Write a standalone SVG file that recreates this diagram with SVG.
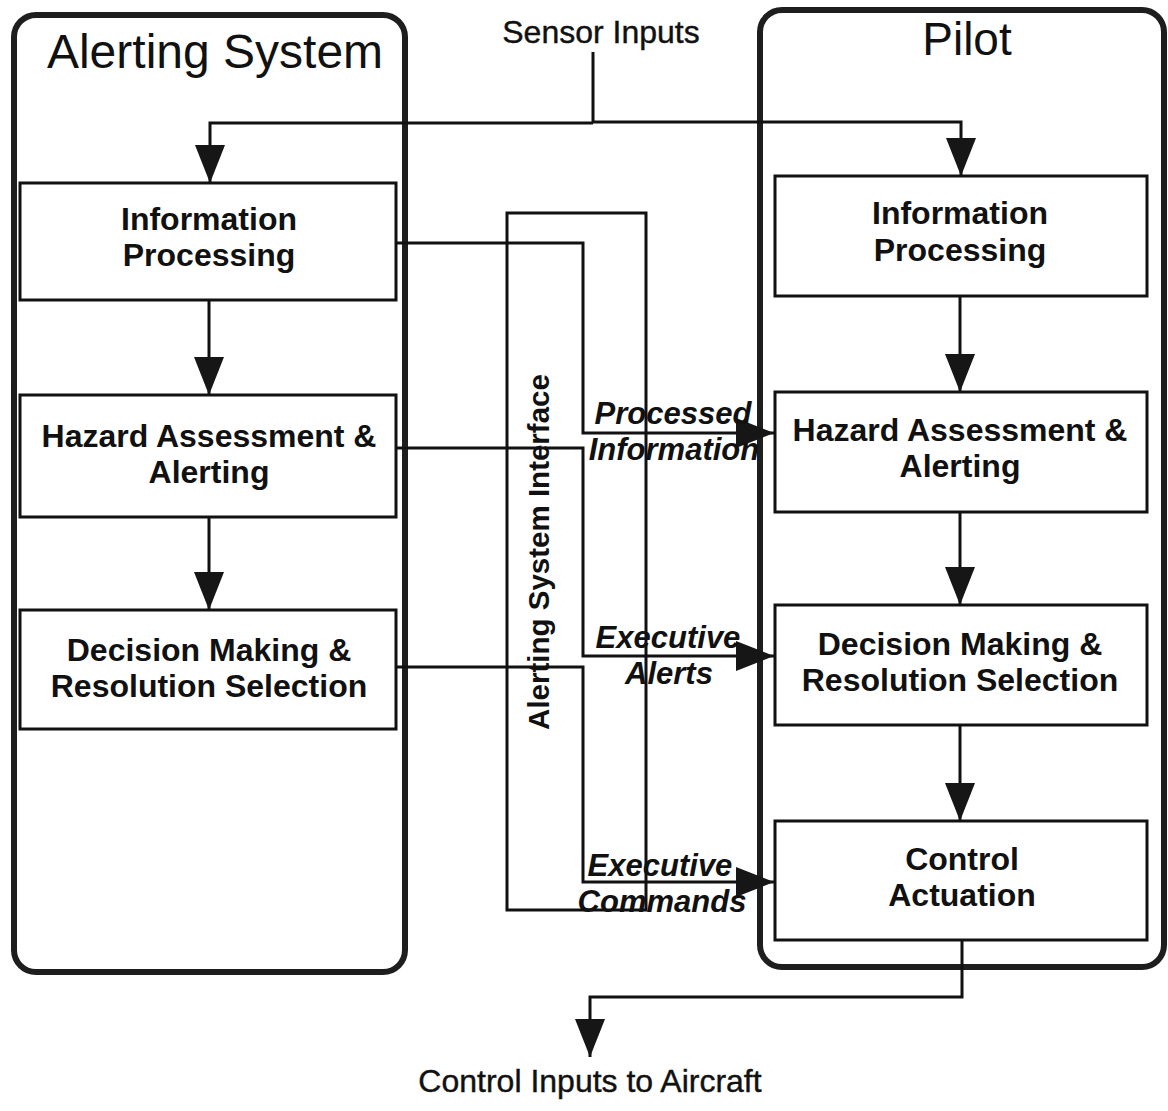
<svg xmlns="http://www.w3.org/2000/svg" width="1168" height="1111" viewBox="0 0 1168 1111">
<defs>
<marker id="arr" viewBox="0 0 38 30" refX="38" refY="15" markerWidth="38" markerHeight="30" markerUnits="userSpaceOnUse" orient="auto">
<path d="M0,0 L38,15 L0,30 Z" fill="#161616"/>
</marker>
<style>
.cont{fill:none;stroke:#1e1e1e;stroke-width:6}
.box{fill:#fff;stroke:#111;stroke-width:3}
.ln{fill:none;stroke:#111;stroke-width:3}
.arrow{marker-end:url(#arr)}
.title{font-family:"Liberation Sans",Arial,sans-serif;font-size:46px;fill:#111;text-anchor:middle}
.lbl{font-family:"Liberation Sans",Arial,sans-serif;font-size:32px;font-weight:bold;fill:#111;text-anchor:middle}
.it{font-family:"Liberation Sans",Arial,sans-serif;font-size:31px;font-weight:bold;font-style:italic;fill:#111;text-anchor:middle}
.plain{font-family:"Liberation Sans",Arial,sans-serif;font-size:32px;fill:#111;text-anchor:middle;stroke:#111;stroke-width:0.4}
</style>
</defs>
<rect width="1168" height="1111" fill="#fff"/>

<g id="alerting-system">
<rect class="cont" x="14" y="15" width="391" height="957" rx="22"/>
<text class="title" x="215" y="68" style="font-size:48px">Alerting System</text>
</g>
<g id="pilot">
<rect class="cont" x="760" y="10" width="404" height="957" rx="22"/>
<text class="title" x="967" y="55">Pilot</text>
</g>

<g id="interface">
<rect class="ln" x="507" y="213" width="139" height="697"/>
<text class="lbl" style="font-size:29.5px" transform="translate(549,552) rotate(-90)" x="0" y="0">Alerting System Interface</text>
</g>

<g id="connectors">
<path class="ln" d="M593,52 V123"/>
<path class="ln arrow" d="M593,123 H210 V183"/>
<path class="ln arrow" d="M593,122 H961 V176"/>
<path class="ln arrow" d="M209,300 V395"/>
<path class="ln arrow" d="M209,517 V610"/>
<path class="ln arrow" d="M960,296 V392"/>
<path class="ln arrow" d="M960,512 V605"/>
<path class="ln arrow" d="M960,725 V821"/>
<path class="ln arrow" d="M397,243 H583 V433 H774"/>
<path class="ln arrow" d="M397,448 H583 V656 H774"/>
<path class="ln arrow" d="M397,667 H583 V882 H774"/>
<path class="ln arrow" d="M962,940 V997 H590 V1057"/>
</g>

<g id="edge-labels">
<text class="it" x="673" y="424">Processed</text>
<text class="it" x="674" y="460">Information</text>
<text class="it" x="668" y="648">Executive</text>
<text class="it" x="669" y="684">Alerts</text>
<text class="it" x="660" y="876">Executive</text>
<text class="it" x="662" y="912">Commands</text>
</g>

<g id="sensor-inputs">
<text class="plain" x="601" y="43">Sensor Inputs</text>
</g>
<g id="control-inputs">
<text class="plain" x="590" y="1092">Control Inputs to Aircraft</text>
</g>

<g id="as-info">
<rect class="box" x="20" y="183" width="376" height="117"/>
<text class="lbl" x="209" y="230">Information</text>
<text class="lbl" x="209" y="266">Processing</text>
</g>
<g id="as-hazard">
<rect class="box" x="20" y="395" width="376" height="122"/>
<text class="lbl" x="209" y="447">Hazard Assessment &amp;</text>
<text class="lbl" x="209" y="483">Alerting</text>
</g>
<g id="as-decision">
<rect class="box" x="20" y="610" width="376" height="119"/>
<text class="lbl" x="209" y="661">Decision Making &amp;</text>
<text class="lbl" x="209" y="697">Resolution Selection</text>
</g>

<g id="p-info">
<rect class="box" x="775" y="176" width="372" height="120"/>
<text class="lbl" x="960" y="224">Information</text>
<text class="lbl" x="960" y="261">Processing</text>
</g>
<g id="p-hazard">
<rect class="box" x="775" y="392" width="372" height="120"/>
<text class="lbl" x="960" y="441">Hazard Assessment &amp;</text>
<text class="lbl" x="960" y="477">Alerting</text>
</g>
<g id="p-decision">
<rect class="box" x="775" y="605" width="372" height="120"/>
<text class="lbl" x="960" y="655">Decision Making &amp;</text>
<text class="lbl" x="960" y="691">Resolution Selection</text>
</g>
<g id="p-control">
<rect class="box" x="775" y="821" width="372" height="119"/>
<text class="lbl" x="962" y="870">Control</text>
<text class="lbl" x="962" y="906">Actuation</text>
</g>
</svg>
